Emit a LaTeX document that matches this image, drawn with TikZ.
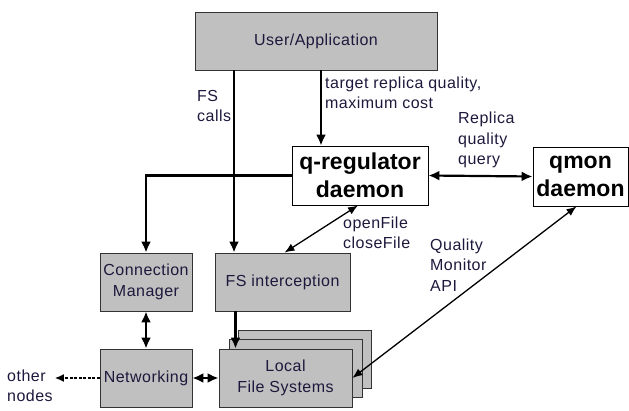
\documentclass[tikz,border=0pt]{standalone}
\usepackage{fontspec}
\setmainfont{Liberation Sans}[LetterSpace=3,BoldFeatures={LetterSpace=0}]
\usepackage{tikz}
\usetikzlibrary{arrows.meta}
\usetikzlibrary{positioning}

\definecolor{boxgray}{RGB}{192,192,192}
\definecolor{labelcol}{RGB}{30,24,60}

\begin{document}
\begin{tikzpicture}
		[
		x=1pt,y=-1pt,
		font=\fontsize{16}{20.5}\selectfont,
		text=labelcol
		]
		
		% Box styles: grey module and white daemon
		\tikzstyle{module}=[draw=black!80,fill=boxgray,line width=0.8pt,align=center,inner sep=0pt];
		\tikzstyle{daemon}=[draw=black,fill=white,line width=0.8pt,align=center,inner sep=0pt,
			font=\fontsize{23}{27.5}\selectfont\bfseries,text=black];
		\tikzstyle{note}=[align=left,inner sep=2pt];
		% Connector styles
		\tikzstyle{flow}=[line width=2.2pt,-{Latex[length=11pt,width=10pt]}];
		\tikzstyle{both}=[line width=2.2pt,{Latex[length=11pt,width=10pt]}-{Latex[length=11pt,width=10pt]}];
		\tikzstyle{api}=[line width=1.3pt,{Latex[length=10pt,width=8pt]}-{Latex[length=10pt,width=8pt]}];
		
		\useasboundingbox (0,0) rectangle (629,410);
		
		% The boxes
		\node(app)[module,minimum width=242,minimum height=58] at (316,41) {User/Application};
		\node(qreg)[daemon,minimum width=136,minimum height=59] at (360,175.5) {q-regulator\\daemon};
		\node(qmon)[daemon,minimum width=95,minimum height=59] at (580.5,176.5) {qmon\\daemon};
		\node(cm)[module,minimum width=92,minimum height=58] at (146,282) {Connection\\Manager};
		\node(fsi)[module,minimum width=135,minimum height=58] at (282.5,282) {FS interception};
		\node(net)[module,minimum width=92,minimum height=58] at (146,378) {Networking};
		% Local file systems: a stack of three
		\foreach \s in {19,10}
			\node[module,minimum width=133,minimum height=58] at (285.5+\s,378-\s) {};
		\node(lfs)[module,minimum width=133,minimum height=58] at (285.5,378) {Local\\File Systems};
		
		% Connectors
		\draw[flow]([xshift=5]app.south)--([xshift=5]app.south |- qreg.north);
		\draw[flow]([xshift=-82]app.south)--([xshift=-82]app.south |- fsi.north);
		\draw[flow](qreg.west)-|(cm.north);
		\draw[both](qreg.east)--(qmon.west);
		\draw[api]([xshift=-2]qreg.south)--([xshift=2]fsi.north);
		\draw[api]([xshift=-4]qmon.south)--(lfs.east);
		\draw[both](cm.south)--(net.north);
		\draw[flow]([xshift=-47]fsi.south)--([xshift=-47]fsi.south |- lfs.north);
		\draw[both](net.east)--(lfs.west);
		
		% Other nodes
		\node(other)[note,anchor=west] at (5,386) {other\\nodes};
		\draw[line width=1.4pt,dash pattern=on 3pt off 1.5pt,-{Latex[length=9pt,width=8pt]}](net.west)--(net.west -| other.east);
		
		% Connector labels
		\node(fscalls)[note,anchor=west] at (195,106) {FS\\calls};
		\node(target)[note,anchor=west] at (323,93) {target replica quality,\\maximum cost};
		\node(query)[note,anchor=west] at (456,140) {Replica\\quality\\query};
		\node(openclose)[note,anchor=west] at (341,233) {openFile\\closeFile};
		\node(qmapi)[note,anchor=west] at (428,265) {Quality\\Monitor\\API};
		\end{tikzpicture}
\end{document}
